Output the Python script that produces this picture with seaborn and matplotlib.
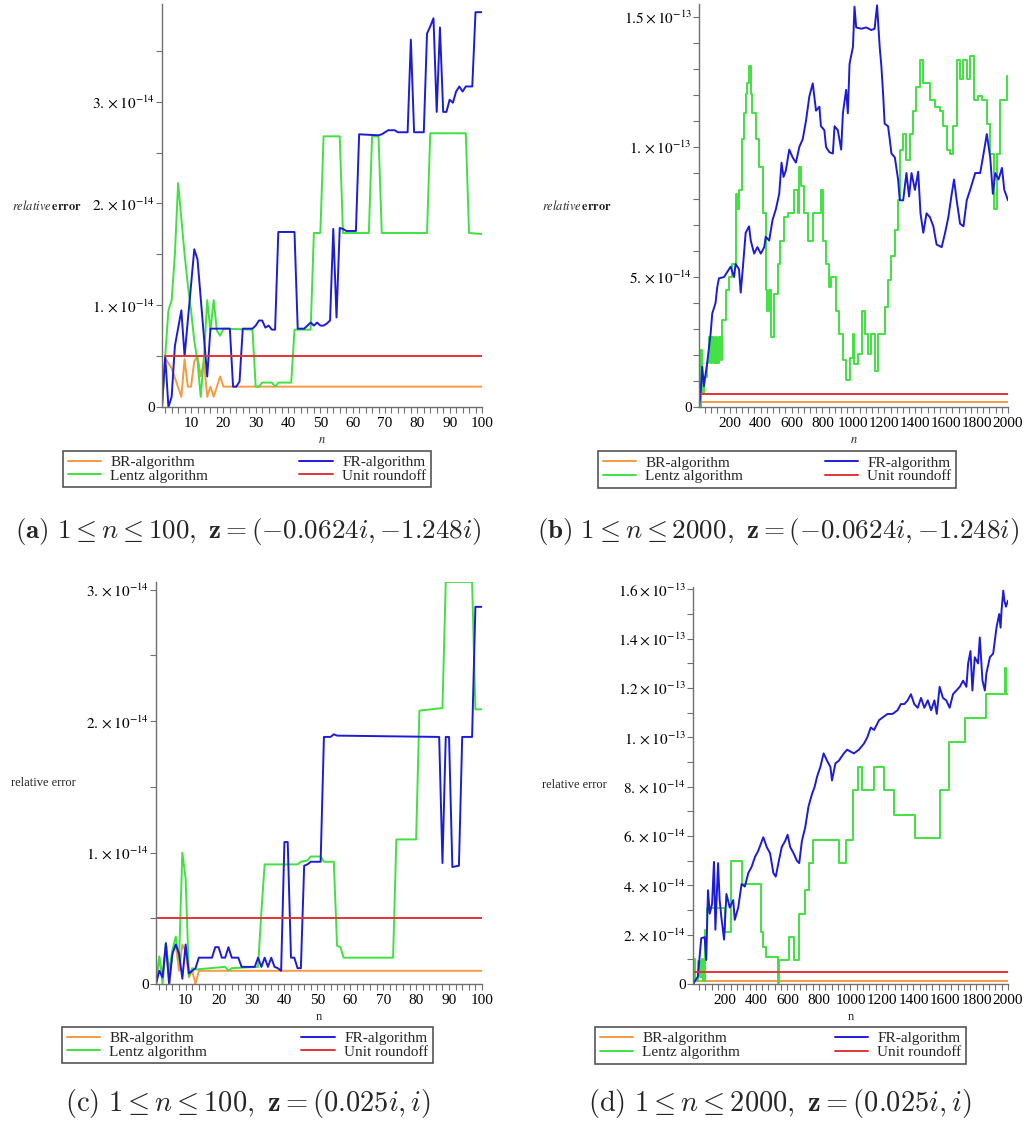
import matplotlib
matplotlib.use("Agg")
import matplotlib.pyplot as plt
import numpy as np
import seaborn as sns

ORANGE = "#F59A45"
BLUE = "#1C1CD8"
GREEN = "#3FE23F"
RED = "#E53333"

# valeurs, unite : 1e-14

# (a) 1 <= n <= 100, z = (-0.0624i, -1.248i)
br_a_n = [1, 2, 4, 7, 8, 9, 10, 11, 12, 13, 14, 15, 16, 17, 19, 20, 100]
br_a = [0, 0.48, 0.38, 0.1, 0.47, 0.2, 0.2, 0.45, 0.5, 0.3, 0.45, 0.1, 0.2, 0.1, 0.3, 0.2, 0.2]
gr_a_n = [1, 2, 3, 4, 5, 6, 7, 8, 9, 10, 11, 12, 13, 14, 15, 16, 17, 18, 19, 20,
          29, 30, 31, 32, 35, 36, 37, 41, 42, 47, 48, 50, 51, 56, 57, 65, 66, 68, 69, 83,
          84, 95, 96, 100]
gr_a = [0, 0.5, 0.95, 1.05, 1.5, 2.2, 1.85, 1.5, 1.2, 0.95, 0.65, 0.45, 0.1, 0.5, 1.05, 0.75, 1.05, 0.75, 0.7, 0.77,
        0.76, 0.2, 0.2, 0.24, 0.24, 0.2, 0.24, 0.24, 0.76, 0.76, 1.71, 1.71, 2.66, 2.66, 1.71, 1.71, 2.66, 2.66, 1.71, 1.71,
        2.69, 2.69, 1.71, 1.70]
bl_a_n = [1, 2, 3, 4, 5, 7, 8, 11, 12, 15,
          16, 22, 23, 24, 25, 26, 29, 30, 31, 32,
          33, 34, 35, 36, 37, 42, 43, 45, 46, 47,
          48, 49, 50, 51, 52, 53, 54, 55, 56, 57,
          58, 61, 62, 68, 69, 70, 71, 73, 74, 77,
          78, 79, 82, 83, 84, 85, 86, 87, 88, 89,
          90, 91, 92, 93, 94, 95, 97, 98, 100]
bl_a = [0, 0.5, 0, 0.1, 0.6, 0.95, 0.5, 1.55, 1.45, 0.3,
        0.77, 0.77, 0.2, 0.2, 0.25, 0.77, 0.77, 0.8, 0.85, 0.85,
        0.78, 0.8, 0.76, 0.76, 1.72, 1.72, 0.77, 0.77, 0.8, 0.83,
        0.8, 0.83, 0.8, 0.8, 0.82, 0.85, 1.75, 0.88, 1.76, 1.75,
        1.73, 1.73, 2.68, 2.67, 2.68, 2.7, 2.72, 2.72, 2.7, 2.7,
        3.61, 2.7, 2.7, 3.67, 3.74, 3.82, 2.9, 3.73, 2.9, 2.9,
        3.02, 2.99, 3.1, 3.15, 3.1, 3.15, 3.15, 3.88, 3.88]
ur_a_n = [2, 100]
ur_a = [0.5, 0.5]

# (b) 1 <= n <= 2000, z = (-0.0624i, -1.248i)
br_b_n = [11, 2000]
br_b = [0.19, 0.19]
gr_b_n = [1, 11, 22, 33, 54, 65, 76, 87, 98, 108,
          119, 130, 141, 152, 173, 195, 217, 238, 250, 260,
          282, 293, 303, 314, 325, 336, 347, 368, 390, 412,
          433, 444, 455, 466, 487, 509, 526, 548, 574, 596,
          617, 639, 650, 661, 682, 704, 737, 780, 791, 802,
          823, 845, 856, 867, 888, 910, 932, 953, 975, 997,
          1007, 1029, 1057, 1073, 1094, 1116, 1137, 1159, 1202, 1224,
          1246, 1268, 1289, 1300, 1322, 1343, 1365, 1387, 1408, 1430,
          1452, 1495, 1527, 1560, 1582, 1603, 1625, 1647, 1668, 1690,
          1712, 1733, 1755, 1781, 1809, 1831, 1863, 1885, 1907, 1928,
          1946, 1993, 2000]
gr_b = [0, 2.2, 0.5, 1.15, 1.7, 2.7, 1.7, 2.7, 1.7, 2.7,
        1.7, 2.7, 1.8, 3.35, 4.5, 5.0, 5.5, 8.2, 7.6, 8.35,
        10.3, 11.3, 12.05, 12.45, 13.1, 12.05, 11.3, 10.3, 9.25, 7.45,
        4.5, 3.7, 4.5, 2.7, 4.35, 5.5, 6.4, 7.3, 7.45, 7.45,
        8.35, 7.45, 9.25, 8.5, 7.45, 6.4, 7.45, 7.45, 8.35, 6.4,
        5.5, 4.6, 5.0, 5.0, 3.7, 2.8, 1.8, 1.05, 1.9, 2.8,
        1.65, 2.05, 3.7, 2.8, 2.05, 2.8, 1.4, 2.8, 3.85, 4.9,
        5.8, 6.8, 7.95, 9.9, 10.5, 9.5, 10.5, 11.4, 12.3, 13.35,
        12.45, 11.8, 11.55, 11.4, 10.8, 9.9, 9.75, 10.8, 13.35, 12.6,
        13.35, 12.6, 13.5, 11.8, 11.95, 11.8, 10.9, 9.75, 7.6, 9.75,
        11.8, 12.75, 12.75]
bl_b_n = [1, 11, 22, 33, 54, 76, 87, 108, 119, 130,
          163, 206, 228, 238, 260, 271, 282, 303, 325, 336,
          358, 379, 401, 423, 433, 455, 477, 498, 520, 535,
          548, 563, 585, 607, 628, 650, 672, 693, 715, 737,
          758, 780, 790, 812, 823, 845, 867, 878, 899, 921,
          932, 953, 964, 975, 997, 1007, 1018, 1051, 1083, 1116,
          1137, 1153, 1170, 1181, 1192, 1202, 1224, 1235, 1246, 1268,
          1289, 1300, 1322, 1343, 1360, 1376, 1398, 1419, 1434, 1452,
          1473, 1495, 1517, 1538, 1571, 1593, 1614, 1636, 1651, 1668,
          1690, 1712, 1733, 1755, 1788, 1820, 1842, 1863, 1885, 1902,
          1918, 1939, 1961, 1976, 2000]
bl_b = [0, 0.5, 1.55, 0.8, 1.7, 2.8, 3.6, 4.0, 4.6, 4.95,
        5.0, 5.4, 5.0, 5.5, 5.3, 4.4, 5.15, 6.7, 6.95, 6.4,
        5.9, 6.15, 5.9, 6.15, 6.55, 6.4, 7.2, 7.6, 8.2, 9.4,
        8.85, 9.1, 9.9, 9.6, 9.4, 10.0, 10.3, 11.0, 11.95, 12.45,
        11.4, 11.55, 10.8, 10.65, 10.0, 9.8, 9.75, 10.8, 10.65, 9.9,
        11.3, 12.2, 11.3, 13.2, 13.85, 15.4, 14.6, 14.55, 14.6, 14.5,
        14.55, 15.45, 13.85, 13.1, 12.05, 10.9, 10.8, 10.3, 9.75, 9.6,
        8.75, 7.95, 7.95, 9.0, 8.1, 9.0, 8.35, 9.05, 7.45, 6.7,
        7.45, 7.3, 6.95, 6.25, 6.15, 6.7, 7.3, 8.2, 8.75, 7.95,
        7.05, 6.95, 7.95, 8.35, 9.0, 9.0, 9.75, 10.5, 9.6, 8.2,
        9.0, 8.75, 9.2, 8.35, 7.95]
ur_b_n = [11, 2000]
ur_b = [0.51, 0.51]

# (c) 1 <= n <= 100, z = (0.025i, i)
br_c_n = [1, 2, 3, 4, 5, 6, 7, 8, 9, 10, 11, 12, 13, 14, 100]
br_c = [0, 0.2, 0.05, 0.3, 0.0, 0.25, 0.3, 0.1, 0.3, 0.25, 0.05, 0.1, 0.0, 0.1, 0.1]
gr_c_n = [1, 2, 3, 4, 5, 6, 7, 8, 9, 10, 11, 12, 13,
          22, 23, 24, 32, 33, 34, 44, 45, 47, 48,
          51, 52, 55, 56, 57, 58, 73, 74, 80, 81,
          88, 89, 97, 98, 100]
gr_c = [0, 0.21, 0, 0.31, 0.1, 0.26, 0.36, 0.18, 1.0, 0.8, 0.06, 0.12, 0.11,
        0.13, 0.1, 0.12, 0.13, 0.55, 0.91, 0.91, 0.93, 0.94, 0.97,
        0.97, 0.93, 0.93, 0.29, 0.28, 0.2, 0.2, 1.1, 1.1, 2.08,
        2.1, 3.06, 3.06, 2.09, 2.09]
bl_c_n = [1, 2, 3, 4, 5, 6, 7, 8, 9, 10, 11, 12, 13, 14,
          18, 19, 20, 21, 22, 23, 24, 26, 27, 31,
          32, 33, 34, 35, 36, 37, 38, 39, 40, 41,
          42, 43, 44, 45, 46, 47, 48, 51, 52, 54,
          55, 56, 87, 88, 89, 90, 91, 93, 94, 97,
          98, 100]
bl_c = [0, 0.1, 0.05, 0.31, 0, 0.23, 0.3, 0.23, 0.04, 0.3, 0.08, 0.1, 0.12, 0.2,
        0.2, 0.28, 0.28, 0.2, 0.2, 0.28, 0.2, 0.2, 0.13, 0.13,
        0.2, 0.13, 0.2, 0.13, 0.2, 0.13, 0.12, 0.1, 1.08, 1.08,
        0.2, 0.2, 0.12, 0.12, 0.9, 0.91, 0.93, 0.93, 1.88, 1.88,
        1.9, 1.89, 1.88, 0.92, 1.88, 1.88, 0.89, 0.9, 1.88, 1.88,
        2.87, 2.87]
ur_c_n = [1, 100]
ur_c = [0.5, 0.5]

# (d) 1 <= n <= 2000, z = (0.025i, i)
br_d_n = [5, 2000]
br_d = [0.13, 0.13]
gr_d_n = [1, 5, 13, 34, 45, 55, 66, 77, 87, 204,
          245, 309, 432, 445, 463, 540, 547, 607, 645, 675,
          710, 740, 765, 925, 972, 1016, 1050, 1071, 1150, 1214,
          1278, 1412, 1566, 1625, 1725, 1859, 1978, 1986, 2000]
gr_d = [0, 1.0, 0.1, 0.95, 0.3, 1.0, 0.1, 2.2, 3.1, 2.1,
        5.0, 4.05, 2.1, 1.5, 1.1, 0.05, 0.97, 1.9, 0.97, 2.85,
        3.8, 4.9, 5.85, 4.9, 5.85, 7.85, 8.8, 7.85, 8.8, 7.85,
        6.85, 5.9, 7.85, 9.8, 10.8, 11.75, 12.8, 11.75, 11.75]
bl_d_n = [1, 32, 53, 75, 85, 96, 107, 122, 134, 143,
          160, 170, 181, 198, 213, 234, 256, 266, 288, 309,
          330, 352, 373, 394, 415, 447, 469, 490, 511, 526,
          543, 564, 586, 601, 618, 639, 660, 675, 692, 713,
          734, 756, 773, 788, 809, 830, 852, 873, 883, 905,
          926, 958, 979, 1022, 1054, 1086, 1107, 1129, 1150, 1182,
          1203, 1235, 1267, 1299, 1320, 1342, 1363, 1384, 1405, 1427,
          1448, 1469, 1491, 1512, 1533, 1548, 1566, 1587, 1608, 1630,
          1651, 1672, 1694, 1715, 1736, 1747, 1762, 1774, 1789, 1810,
          1821, 1838, 1853, 1863, 1885, 1906, 1927, 1944, 1953, 1959,
          1970, 1977, 1987, 2000]
bl_d = [0, 0.3, 1.85, 1.9, 0.97, 3.8, 2.85, 3.25, 4.95, 2.2,
        4.9, 3.4, 2.7, 1.8, 3.65, 3.1, 3.4, 2.6, 3.1, 4.05,
        3.95, 4.5, 4.75, 5.15, 5.4, 5.95, 5.55, 5.3, 4.5, 4.35,
        4.9, 5.55, 5.8, 6.05, 5.55, 5.3, 5.0, 4.9, 5.8, 6.35,
        7.2, 7.7, 8.0, 8.4, 8.8, 9.35, 9.05, 8.8, 8.25, 8.95,
        9.05, 9.35, 9.5, 9.35, 9.5, 9.75, 10.0, 10.4, 10.3, 10.7,
        10.8, 10.95, 10.95, 11.1, 11.35, 11.35, 11.5, 11.75, 11.35, 11.2,
        11.6, 11.2, 11.5, 11.1, 11.5, 10.95, 12.05, 11.6, 11.5, 11.2,
        11.75, 11.9, 12.05, 12.3, 12.05, 13.0, 13.5, 11.9, 13.25, 13.0,
        14.05, 12.3, 11.9, 12.6, 13.25, 13.4, 14.45, 15.0, 14.45, 15.15,
        15.95, 15.55, 15.3, 15.55]
ur_d_n = [5, 2000]
ur_d = [0.5, 0.5]

noms = ["BR-algorithm", "Lentz algorithm", "FR-algorithm", "Unit roundoff"]


def sci(v, e):
    return r"$%s\times10^{-%d}$" % (v, e)


def panneau(ax, courbes, pas_vert, xlim, ylim, xmaj, xmin, ymaj, ylab_txt, ymin,
            ylabel, xlabel, ylab_x, leg_box):
    couleurs = [ORANGE, GREEN, BLUE, RED]
    for (n, v), c, nom in zip(courbes, couleurs, noms):
        style = "steps-post" if (c == GREEN and pas_vert) else "default"
        sns.lineplot(x=n, y=v, ax=ax, color=c, label=nom, lw=1.4,
                     estimator=None, sort=False, drawstyle=style)
    ax.set_xlim(*xlim)
    ax.set_ylim(*ylim)
    ax.set_xticks(xmaj)
    ax.set_xticklabels([str(t) for t in xmaj])
    ax.set_xticks(xmin, minor=True)
    ax.set_yticks(ymaj)
    ax.set_yticklabels(ylab_txt)
    ax.set_yticks(ymin, minor=True)
    for s in ["top", "right"]:
        ax.spines[s].set_visible(False)
    for s in ["left", "bottom"]:
        ax.spines[s].set_color("#707070")
        ax.spines[s].set_linewidth(1.0)
    ax.tick_params(which="both", direction="out", length=4, width=0.8, color="#707070",
                   labelsize=11, labelcolor="black")
    ax.tick_params(axis="y", which="both", pad=1)
    ax.tick_params(axis="x", which="both", pad=3)

    ax.set_ylabel(ylabel, rotation=0, ha="right", va="center", fontsize=9, math_fontfamily="stix")
    ax.yaxis.set_label_coords(ylab_x, 0.5)
    ax.set_xlabel(xlabel, fontsize=9, math_fontfamily="stix")
    ax.xaxis.set_label_coords(0.5, -0.068)

    if ax.get_legend() is not None:
        ax.get_legend().remove()
    h, l = ax.get_legend_handles_labels()
    leg = ax.legend(h[:4], l[:4], ncol=2, loc="center", bbox_to_anchor=leg_box,
                    bbox_transform=fig.transFigure, mode="expand", borderaxespad=0,
                    frameon=True, fancybox=False, edgecolor="#555555", framealpha=1,
                    fontsize=11, handlelength=2.2, labelspacing=0.0, borderpad=0.3,
                    handletextpad=0.6)
    leg.get_frame().set_linewidth(1.2)


sns.set_theme(style="ticks")
plt.rcParams["font.family"] = ["Liberation Serif", "DejaVu Serif"]
plt.rcParams["mathtext.fontset"] = "stix"

fig = plt.figure(figsize=(10.27, 11.24), dpi=100)

ax_a = fig.add_axes([0.1577, 0.6379, 0.3116, 0.3585])
ax_b = fig.add_axes([0.6806, 0.6379, 0.3009, 0.3585])
ax_c = fig.add_axes([0.1519, 0.1246, 0.3174, 0.3577])
ax_d = fig.add_axes([0.6748, 0.1246, 0.3067, 0.3532])

x_petit = list(range(10, 101, 10))
x_petit_min = list(np.arange(2, 100, 2))
x_grand = list(range(200, 2001, 200))
x_grand_min = list(np.arange(40, 2000, 40))

lab_ital = r"$\mathit{relative}\,\mathbf{error}$"

panneau(ax_a, [(br_a_n, br_a), (gr_a_n, gr_a), (bl_a_n, bl_a), (ur_a_n, ur_a)], False,
        (1, 100), (0, 3.96), x_petit, x_petit_min,
        [0, 1, 2, 3], ["0", sci("1.", 14), sci("2.", 14), sci("3.", 14)], [0.5, 1.5, 2.5, 3.5],
        lab_ital, r"$n$", -0.25, (0.0613, 0.5658, 0.3583, 0.0338))

panneau(ax_b, [(br_b_n, br_b), (gr_b_n, gr_b), (bl_b_n, bl_b), (ur_b_n, ur_b)], True,
        (1, 2000), (0, 15.5), x_grand, x_grand_min,
        [0, 5, 10, 15], ["0", sci("5.", 14), sci("1.", 13), sci("1.5", 13)],
        [1, 2, 3, 4, 6, 7, 8, 9, 11, 12, 13, 14],
        lab_ital, r"$n$", -0.28, (0.5823, 0.5649, 0.3486, 0.0347))

panneau(ax_c, [(br_c_n, br_c), (gr_c_n, gr_c), (bl_c_n, bl_c), (ur_c_n, ur_c)], False,
        (1, 100), (0, 3.06), x_petit, x_petit_min,
        [0, 1, 2, 3], ["0", sci("1.", 14), sci("2.", 14), sci("3.", 14)], [0.5, 1.5, 2.5],
        "relative error", "n", -0.245, (0.0604, 0.0543, 0.3612, 0.032))

panneau(ax_d, [(br_d_n, br_d), (gr_d_n, gr_d), (bl_d_n, bl_d), (ur_d_n, ur_d)], True,
        (1, 2000), (0, 16.1), x_grand, x_grand_min,
        [0, 2, 4, 6, 8, 10, 12, 14, 16],
        ["0", sci("2.", 14), sci("4.", 14), sci("6.", 14), sci("8.", 14),
         sci("1.", 13), sci("1.2", 13), sci("1.4", 13), sci("1.6", 13)],
        [1, 3, 5, 7, 9, 11, 13, 15],
        "relative error", "n", -0.273, (0.5794, 0.0534, 0.3612, 0.0329))

# legendes des sous-figures
cap_haut = dict(ha="center", va="center", fontsize=19.5, math_fontfamily="cm")
cap_bas = dict(ha="center", va="center", fontsize=20.5, math_fontfamily="cm")
fig.text(248 / 1027, 1 - 532 / 1124,
         r"$\mathbf{(a)}\ 1 \leq n \leq 100,\ \mathbf{z} = ({-}0.0624i, {-}1.248i)$", **cap_haut)
fig.text(778 / 1027, 1 - 532 / 1124,
         r"$\mathbf{(b)}\ 1 \leq n \leq 2000,\ \mathbf{z} = ({-}0.0624i, {-}1.248i)$", **cap_haut)
fig.text(248 / 1027, 1 - 1103 / 1124,
         r"$(\mathrm{c})\ 1 \leq n \leq 100,\ \mathbf{z} = (0.025i, i)$", **cap_bas)
fig.text(780 / 1027, 1 - 1103 / 1124,
         r"$(\mathrm{d})\ 1 \leq n \leq 2000,\ \mathbf{z} = (0.025i, i)$", **cap_bas)

fig.savefig("out.png", dpi=100)
